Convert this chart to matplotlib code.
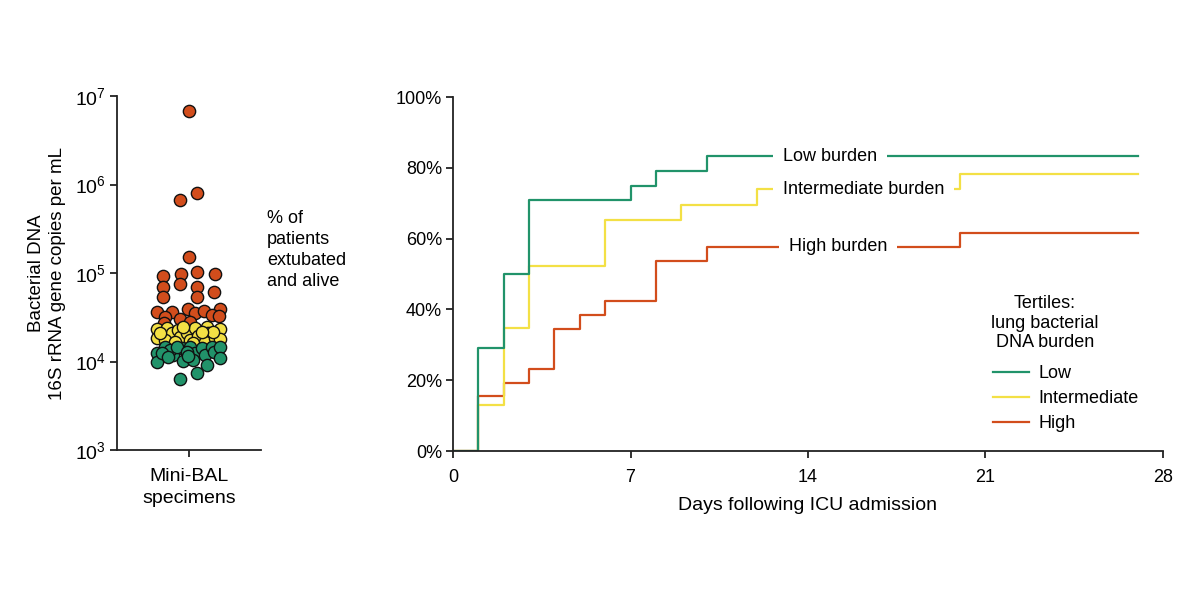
import matplotlib
matplotlib.use('Agg')

import matplotlib.pyplot as plt
from matplotlib.lines import Line2D
from matplotlib.ticker import FixedLocator, NullLocator
import numpy as np

plt.rcParams['font.family'] = ['Liberation Sans', 'DejaVu Sans']
plt.rcParams['mathtext.default'] = 'regular'
plt.rcParams['font.size'] = 13

green = '#21936a'
yellow = '#f3e045'
red = '#d24d1c'

# --- left panel: bacterial DNA per specimen (log10 copies/mL) and swarm offset
high_offset = [0.00, -0.12, 0.115, 0.0, -0.36, -0.115, 0.36, 0.115, -0.365, -0.125,
               0.115, 0.35, -0.365, 0.115, -0.44, -0.23, -0.01, 0.08, 0.21, 0.43,
               -0.33, -0.13, 0.01, 0.315, 0.42, -0.35]
high_log = [6.83, 5.83, 5.905, 5.18, 4.965, 4.99, 4.985, 5.01, 4.844, 4.875,
            4.837, 4.788, 4.725, 4.731, 4.555, 4.562, 4.589, 4.544, 4.570, 4.589,
            4.506, 4.476, 4.449, 4.525, 4.514, 4.431]

mid_offset = [-0.45, -0.45, -0.31, -0.24, -0.33, -0.15, -0.125, -0.03, 0.015, 0.08,
              0.13, 0.245, 0.27, 0.22, 0.36, 0.43, 0.43, -0.40, -0.19, -0.08,
              0.06, 0.34, 0.175]
mid_log = [4.363, 4.262, 4.375, 4.318, 4.243, 4.356, 4.273, 4.325, 4.243, 4.375,
           4.288, 4.393, 4.318, 4.224, 4.262, 4.363, 4.250, 4.318, 4.224, 4.393,
           4.205, 4.337, 4.337]

low_offset = [-0.45, -0.45, -0.33, -0.22, -0.26, -0.10, -0.09, 0.015, 0.08, 0.06,
              0.175, 0.22, 0.315, 0.35, 0.43, 0.43, 0.245, 0.115, -0.125, -0.38,
              -0.17, -0.03, -0.29, -0.01]
low_log = [4.099, 3.998, 4.167, 4.073, 4.130, 4.149, 4.009, 4.167, 4.099, 4.017,
           4.149, 4.073, 4.167, 4.111, 4.167, 4.036, 3.961, 3.867, 3.800, 4.092,
           4.167, 4.111, 4.054, 4.062]

# --- right panel: % extubated and alive by day
low_days = [0, 1, 2, 3, 7, 8, 10, 27]
low_pct = [0, 29.2, 50.0, 70.8, 75.0, 79.2, 83.3, 83.3]
mid_days = [0, 1, 2, 3, 6, 9, 12, 20, 27]
mid_pct = [0, 13.0, 34.8, 52.2, 65.2, 69.6, 73.9, 78.3, 78.3]
high_days = [0, 1, 2, 3, 4, 5, 6, 8, 10, 20, 27]
high_pct = [0, 15.4, 19.2, 23.1, 34.6, 38.5, 42.3, 53.8, 57.7, 61.5, 61.5]

day_ticks = [0, 7, 14, 21, 28]
pct_ticks = [0, 20, 40, 60, 80, 100]

fig = plt.figure(figsize=(12, 6), dpi=100)
ax1 = fig.add_axes([117 / 1200, 150 / 600, 144 / 1200, 354 / 600])
ax2 = fig.add_axes([453 / 1200, 149 / 600, 710 / 1200, 354 / 600])

for ax in (ax1, ax2):
    for s in ('top', 'right'):
        ax.spines[s].set_visible(False)
    for s in ('left', 'bottom'):
        ax.spines[s].set_linewidth(1.3)
        ax.spines[s].set_color('#222222')
    ax.tick_params(direction='out', length=5, width=1.3, color='#222222',
                   labelsize=13, pad=3)
    ax.tick_params(axis='x', pad=8)

# left scatter
for off, lg, c in ((high_offset, high_log, red), (mid_offset, mid_log, yellow),
                   (low_offset, low_log, green)):
    ax1.scatter(off, 10 ** np.array(lg), s=78, c=c, edgecolors='#111111',
                linewidths=1.0, zorder=3, clip_on=False)
ax1.set_yscale('log')
ax1.set_ylim(1e3, 1e7)
ax1.set_xlim(-1, 1)
ax1.yaxis.set_major_locator(FixedLocator([1e3, 1e4, 1e5, 1e6, 1e7]))
ax1.yaxis.set_minor_locator(NullLocator())
ax1.set_yticklabels(['$10^{3}$', '$10^{4}$', '$10^{5}$', '$10^{6}$', '$10^{7}$'],
                    fontsize=14)
ax1.set_xticks([0])
ax1.set_xticklabels(['Mini-BAL\nspecimens'], linespacing=1.35, fontsize=14)
fig.text(47 / 1200, 1 - 273 / 600, 'Bacterial DNA\n16S rRNA gene copies per mL',
         rotation=90, ha='center', va='center', multialignment='center',
         fontsize=13.5, linespacing=1.25)

fig.text(267 / 1200, 1 - 210 / 600, '% of\npatients\nextubated\nand alive',
         ha='left', va='top', fontsize=13, linespacing=1.3)

# right step curves
ax2.step(high_days, high_pct, where='post', color=red, lw=1.6, zorder=2)
ax2.step(mid_days, mid_pct, where='post', color=yellow, lw=1.6, zorder=2)
ax2.step(low_days, low_pct, where='post', color=green, lw=1.6, zorder=2)

box = dict(boxstyle='square,pad=0.55', facecolor='white', edgecolor='none')
ax2.text(14.87, 83.3, 'Low burden', ha='center', va='center', fontsize=13, bbox=box, zorder=4)
ax2.text(16.2, 73.9, 'Intermediate burden', ha='center', va='center', fontsize=13,
         bbox=box, zorder=4)
ax2.text(15.18, 57.7, 'High burden', ha='center', va='center', fontsize=13, bbox=box, zorder=4)

ax2.set_xlim(0, 28)
ax2.set_ylim(0, 100)
ax2.set_xticks(day_ticks)
ax2.set_yticks(pct_ticks)
ax2.set_yticklabels([f'{p}%' for p in pct_ticks])
ax2.set_xlabel('Days following ICU admission', fontsize=14, labelpad=8)

fig.text(1045 / 1200, 1 - 295 / 600, 'Tertiles:\nlung bacterial\nDNA burden',
         ha='center', va='top', multialignment='center', fontsize=13, linespacing=1.2)
handles = [Line2D([], [], color=green, lw=1.6),
           Line2D([], [], color=yellow, lw=1.6),
           Line2D([], [], color=red, lw=1.6)]
fig.legend(handles, ['Low', 'Intermediate', 'High'], loc='upper left',
           bbox_to_anchor=(993 / 1200, 1 - 365 / 600), frameon=False,
           fontsize=13, handlelength=2.0, handletextpad=0.5, labelspacing=0.45,
           borderpad=0, borderaxespad=0)

fig.savefig('out.png', dpi=100)
plt.close(fig)
